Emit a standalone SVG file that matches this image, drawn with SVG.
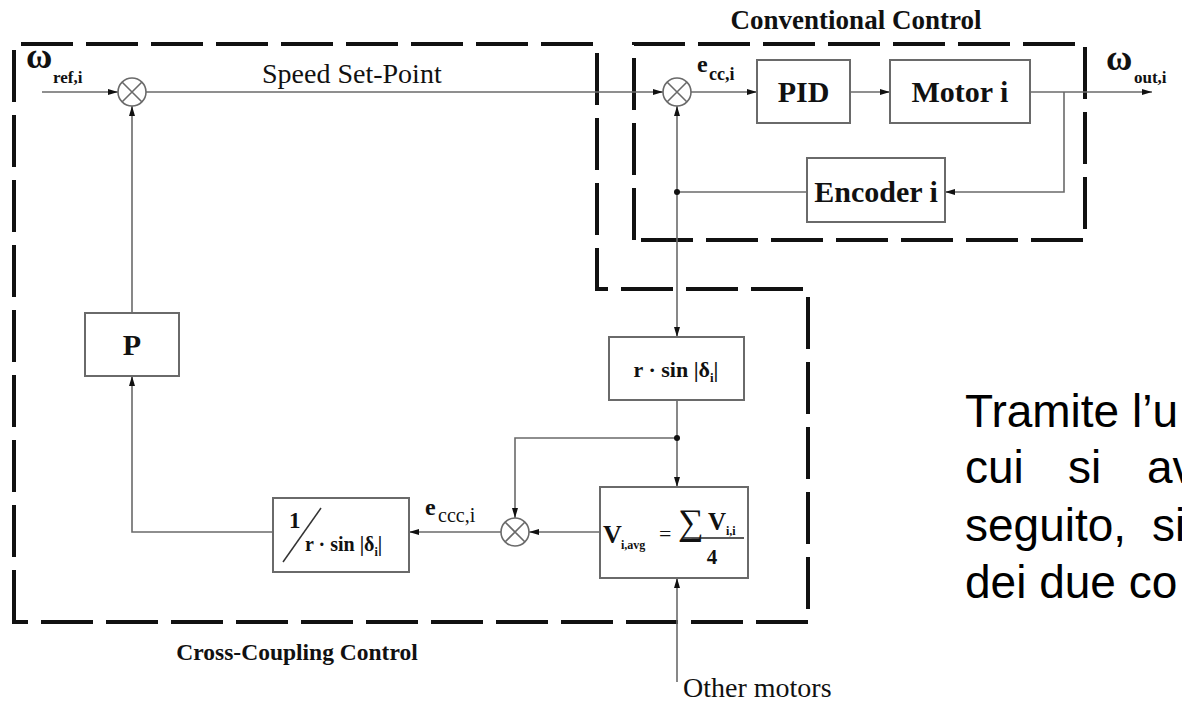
<svg xmlns="http://www.w3.org/2000/svg" width="1182" height="701" viewBox="0 0 1182 701">
<defs>
<marker id="arr" viewBox="0 0 10 6" refX="10" refY="3" markerWidth="10" markerHeight="6" markerUnits="userSpaceOnUse" orient="auto">
<path d="M0,0 L10,3 L0,6 z" fill="#111"/>
</marker>
</defs>
<style>
.bd{fill:none;stroke:#111;stroke-width:4;stroke-dasharray:52 13}
.box{fill:#fff;stroke:#6a6a6a;stroke-width:2}
.ln{fill:none;stroke:#6a6a6a;stroke-width:1.6}
.sum{fill:#fff;stroke:#6a6a6a;stroke-width:1.6}
.b{font-family:"Liberation Serif","Times New Roman",serif;font-weight:bold;fill:#111}
.r{font-family:"Liberation Serif","Times New Roman",serif;fill:#111}
.p{font-family:"Liberation Sans",Arial,sans-serif;font-size:46px;fill:#000}
.dot{fill:#111}
</style>
<rect width="1182" height="701" fill="#fff"/>

<g id="cross-coupling-boundary">
<path class="bd" d="M14,622 V44 H597 V289 H808 V622 Z"/>
<text class="b" x="297" y="660" font-size="23.5" text-anchor="middle">Cross-Coupling Control</text>
</g>
<g id="conventional-boundary">
<path class="bd" d="M634,240 V44 H1085 V240 Z"/>
<text class="b" x="856" y="29" font-size="27" text-anchor="middle">Conventional Control</text>
</g>

<g id="connectors">
<line class="ln" x1="42" y1="92" x2="118" y2="92" marker-end="url(#arr)"/>
<line class="ln" x1="146" y1="92" x2="663" y2="92" marker-end="url(#arr)"/>
<line class="ln" x1="691" y1="92" x2="757" y2="92" marker-end="url(#arr)"/>
<line class="ln" x1="850" y1="92" x2="890" y2="92" marker-end="url(#arr)"/>
<line class="ln" x1="1030" y1="92" x2="1152" y2="92" marker-end="url(#arr)"/>
<polyline class="ln" points="1064,92 1064,192 945,192" marker-end="url(#arr)"/>
<line class="ln" x1="807" y1="192" x2="677" y2="192"/>
<line class="ln" x1="677" y1="192" x2="677" y2="106" marker-end="url(#arr)"/>
<line class="ln" x1="677" y1="192" x2="677" y2="337" marker-end="url(#arr)"/>
<line class="ln" x1="677" y1="400" x2="677" y2="487" marker-end="url(#arr)"/>
<polyline class="ln" points="677,438 515,438 515,518" marker-end="url(#arr)"/>
<line class="ln" x1="600" y1="532" x2="529" y2="532" marker-end="url(#arr)"/>
<line class="ln" x1="501" y1="532" x2="409" y2="532" marker-end="url(#arr)"/>
<polyline class="ln" points="273,532 132,532 132,376" marker-end="url(#arr)"/>
<line class="ln" x1="132" y1="313" x2="132" y2="106" marker-end="url(#arr)"/>
<line class="ln" x1="677" y1="682" x2="677" y2="578" marker-end="url(#arr)"/>
<circle class="dot" cx="677" cy="192" r="3"/>
<circle class="dot" cx="677" cy="438" r="3"/>
<text class="r" x="262" y="83" font-size="28">Speed Set-Point</text>
<text class="b" x="26" y="68" font-size="36">ω</text>
<text class="b" x="53" y="83" font-size="17">ref,i</text>
<text class="b" x="1106" y="70" font-size="36">ω</text>
<text class="b" x="1134" y="83" font-size="17">out,i</text>
<text class="b" x="697" y="72" font-size="24">e</text>
<text class="b" x="709" y="80" font-size="18">cc,i</text>
<text class="b" x="425" y="515" font-size="24">e</text>
<text class="r" x="438" y="522" font-size="20">ccc,i</text>
<text class="r" x="683" y="697" font-size="28">Other motors</text>
</g>

<g id="sum1">
<circle class="sum" cx="132" cy="92" r="14"/>
<path class="ln" d="M122,82 L142,102 M142,82 L122,102"/>
</g>
<g id="sum2">
<circle class="sum" cx="677" cy="92" r="14"/>
<path class="ln" d="M667,82 L687,102 M687,82 L667,102"/>
</g>
<g id="sum3">
<circle class="sum" cx="515" cy="532" r="14"/>
<path class="ln" d="M505,522 L525,542 M525,522 L505,542"/>
</g>

<g id="pid">
<rect class="box" x="757" y="60" width="93" height="63"/>
<text class="b" x="803.5" y="102" font-size="30" text-anchor="middle">PID</text>
</g>
<g id="motor">
<rect class="box" x="890" y="60" width="140" height="63"/>
<text class="b" x="960" y="102" font-size="30" text-anchor="middle">Motor i</text>
</g>
<g id="encoder">
<rect class="box" x="807" y="158" width="138" height="64"/>
<text class="b" x="876" y="202" font-size="30" text-anchor="middle">Encoder i</text>
</g>
<g id="p-block">
<rect class="box" x="85" y="313" width="94" height="63"/>
<text class="b" x="132" y="355" font-size="30" text-anchor="middle">P</text>
</g>
<g id="rsin">
<rect class="box" x="609" y="337" width="135" height="63"/>
<text class="b" x="676" y="377" font-size="22" text-anchor="middle">r · sin |δ<tspan font-size="13" dy="5">i</tspan><tspan dy="-5">|</tspan></text>
</g>
<g id="inv-rsin">
<rect class="box" x="273" y="498" width="136" height="74"/>
<text class="b" x="289" y="528" font-size="23">1</text>
<line x1="283" y1="562" x2="321" y2="508" stroke="#333" stroke-width="1.5"/>
<text class="b" x="305" y="551" font-size="20">r · sin |δ<tspan font-size="12" dy="5">i</tspan><tspan dy="-5">|</tspan></text>
</g>
<g id="vavg">
<rect class="box" x="600" y="487" width="148" height="91"/>
<text class="b" x="603" y="543" font-size="26">V</text>
<text class="b" x="621" y="549" font-size="12">i,avg</text>
<text class="r" x="659" y="541" font-size="22">=</text>
<text class="r" x="678" y="534" font-size="36">∑</text>
<text class="b" x="708" y="530" font-size="25">V</text>
<text class="b" x="726" y="535" font-size="12">i,i</text>
<line x1="682" y1="538" x2="744" y2="538" stroke="#222" stroke-width="1.6"/>
<text class="b" x="712" y="564" font-size="21" text-anchor="middle">4</text>
</g>

<g id="caption">
<text class="p" x="965" y="427">Tramite l’u</text>
<text class="p" y="483"><tspan x="965">cui</tspan><tspan x="1068">si</tspan><tspan x="1147">av</tspan></text>
<text class="p" y="541"><tspan x="965">seguito,</tspan><tspan x="1152">si</tspan></text>
<text class="p" x="965" y="598">dei due co</text>
</g>
</svg>
